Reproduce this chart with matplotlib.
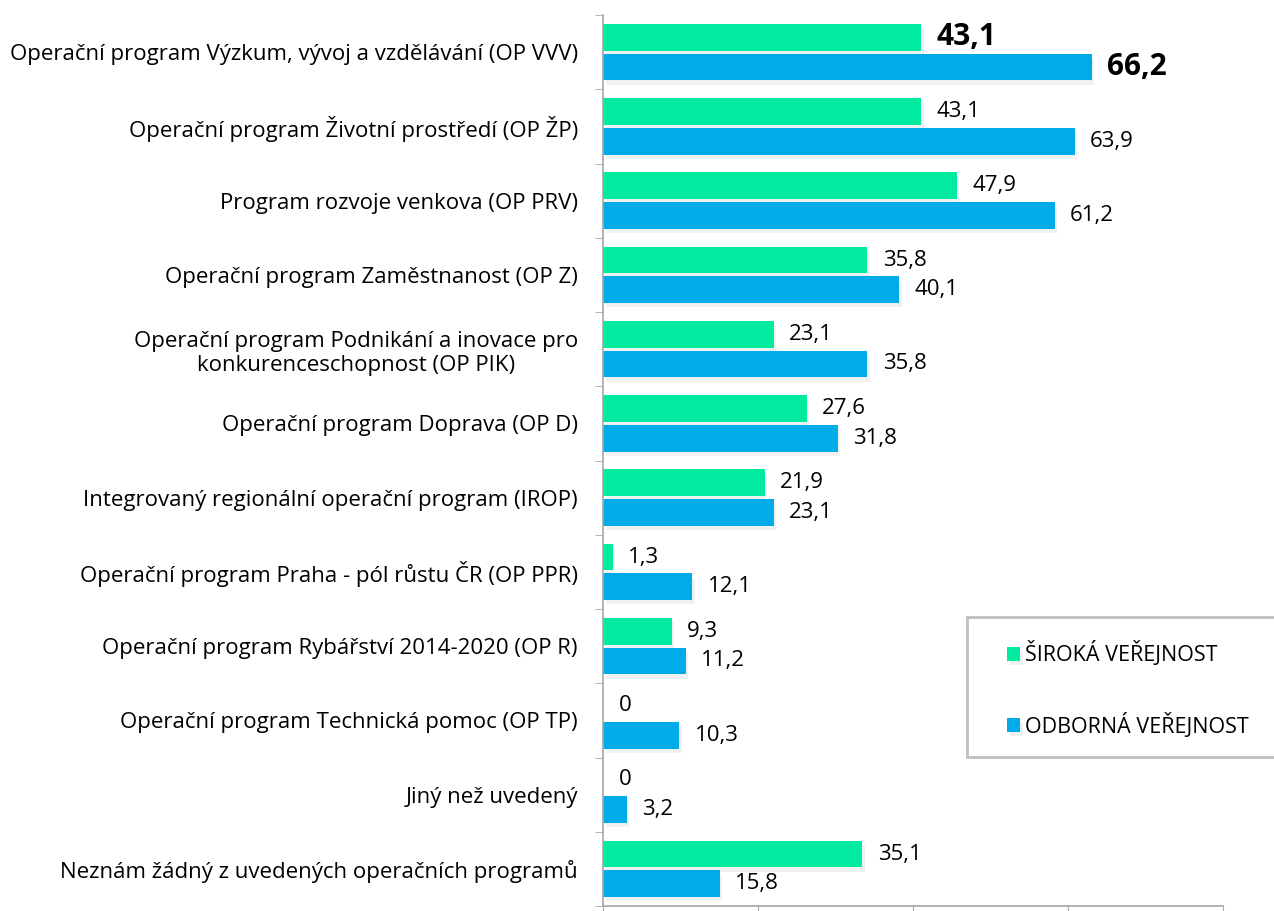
import matplotlib
matplotlib.use("Agg")
import matplotlib.pyplot as plt
import matplotlib.patheffects as pe
from matplotlib.patches import Rectangle
import numpy as np

categories = [
    "Operační program Výzkum, vývoj a vzdělávání (OP VVV)",
    "Operační program Životní prostředí (OP ŽP)",
    "Program rozvoje venkova (OP PRV)",
    "Operační program Zaměstnanost (OP Z)",
    "Operační program Podnikání a inovace pro\nkonkurenceschopnost (OP PIK)",
    "Operační program Doprava (OP D)",
    "Integrovaný regionální operační program (IROP)",
    "Operační program Praha - pól růstu ČR (OP PPR)",
    "Operační program Rybářství 2014-2020 (OP R)",
    "Operační program Technická pomoc (OP TP)",
    "Jiný než uvedený",
    "Neznám žádný z uvedených operačních programů",
]
siroka = [43.1, 43.1, 47.9, 35.8, 23.1, 27.6, 21.9, 1.3, 9.3, 0, 0, 35.1]
odborna = [66.2, 63.9, 61.2, 40.1, 35.8, 31.8, 23.1, 12.1, 11.2, 10.3, 3.2, 15.8]
series_names = ["ŠIROKÁ VEŘEJNOST", "ODBORNÁ VEŘEJNOST"]

GREEN = "#00EBA0"
BLUE = "#00ABE8"
GRID = "#A6A6A6"

plt.rcParams["font.family"] = ["Open Sans", "DejaVu Sans"]

fig = plt.figure(figsize=(12.74, 9.11), dpi=100)
ax = fig.add_axes([603 / 1274, 5 / 911, 620 / 1274, 891 / 911])

y = np.arange(len(categories))
h = 0.36
shadow = [pe.SimplePatchShadow(offset=(2, -3), shadow_rgbFace="#d8d8d8", alpha=0.35), pe.Normal()]

b1 = ax.barh(y - 0.2, siroka, height=h, color=GREEN, label=series_names[0])
b2 = ax.barh(y + 0.2, odborna, height=h, color=BLUE, label=series_names[1])
for bars in (b1, b2):
    for p in bars:
        p.set_path_effects(shadow)

for i, (a, b) in enumerate(zip(siroka, odborna)):
    bold = i == 0
    kw = dict(fontsize=21.5 if bold else 16, fontweight="bold" if bold else "normal",
              va="center", ha="left", color="black")
    off = 2.1
    ax.text(a + off, i - 0.2, f"{a:g}".replace(".", ","), **kw)
    ax.text(b + off, i + 0.2, f"{b:g}".replace(".", ","), **kw)

ax.set_xlim(0, 84)
ax.set_ylim(len(categories) - 0.5, -0.5)

ax.set_yticks(y)
ax.set_yticklabels(categories, fontsize=16, multialignment="center")
ax.tick_params(axis="y", which="major", length=0, pad=18)
ax.set_yticks(np.arange(len(categories) + 1) - 0.5, minor=True)
ax.tick_params(axis="y", which="minor", length=6, color=GRID, direction="out")

ax.set_xticks([0, 21, 42, 63, 84])
ax.set_xticklabels([])
ax.tick_params(axis="x", length=6, color=GRID, direction="out")

for s in ("top", "right"):
    ax.spines[s].set_visible(False)
for s in ("left", "bottom"):
    ax.spines[s].set_color(GRID)
    ax.spines[s].set_linewidth(1.2)

# legend box runs off the right edge of the figure
box = Rectangle((967 / 1274, 1 - 757 / 911), 340 / 1274, 140 / 911,
                transform=fig.transFigure, facecolor="white",
                edgecolor="#BFBFBF", linewidth=2, zorder=5, clip_on=False)
ax.add_patch(box)
leg = ax.legend(loc="upper left", bbox_to_anchor=(1003 / 1274, 1 - 637 / 911), bbox_transform=fig.transFigure,
                fontsize=15.5, frameon=False, handlelength=0.6, handleheight=0.6,
                handletextpad=0.2, labelspacing=2.15, borderpad=0.2, borderaxespad=0)
leg.set_zorder(6)

fig.savefig("out.png", dpi=100)
